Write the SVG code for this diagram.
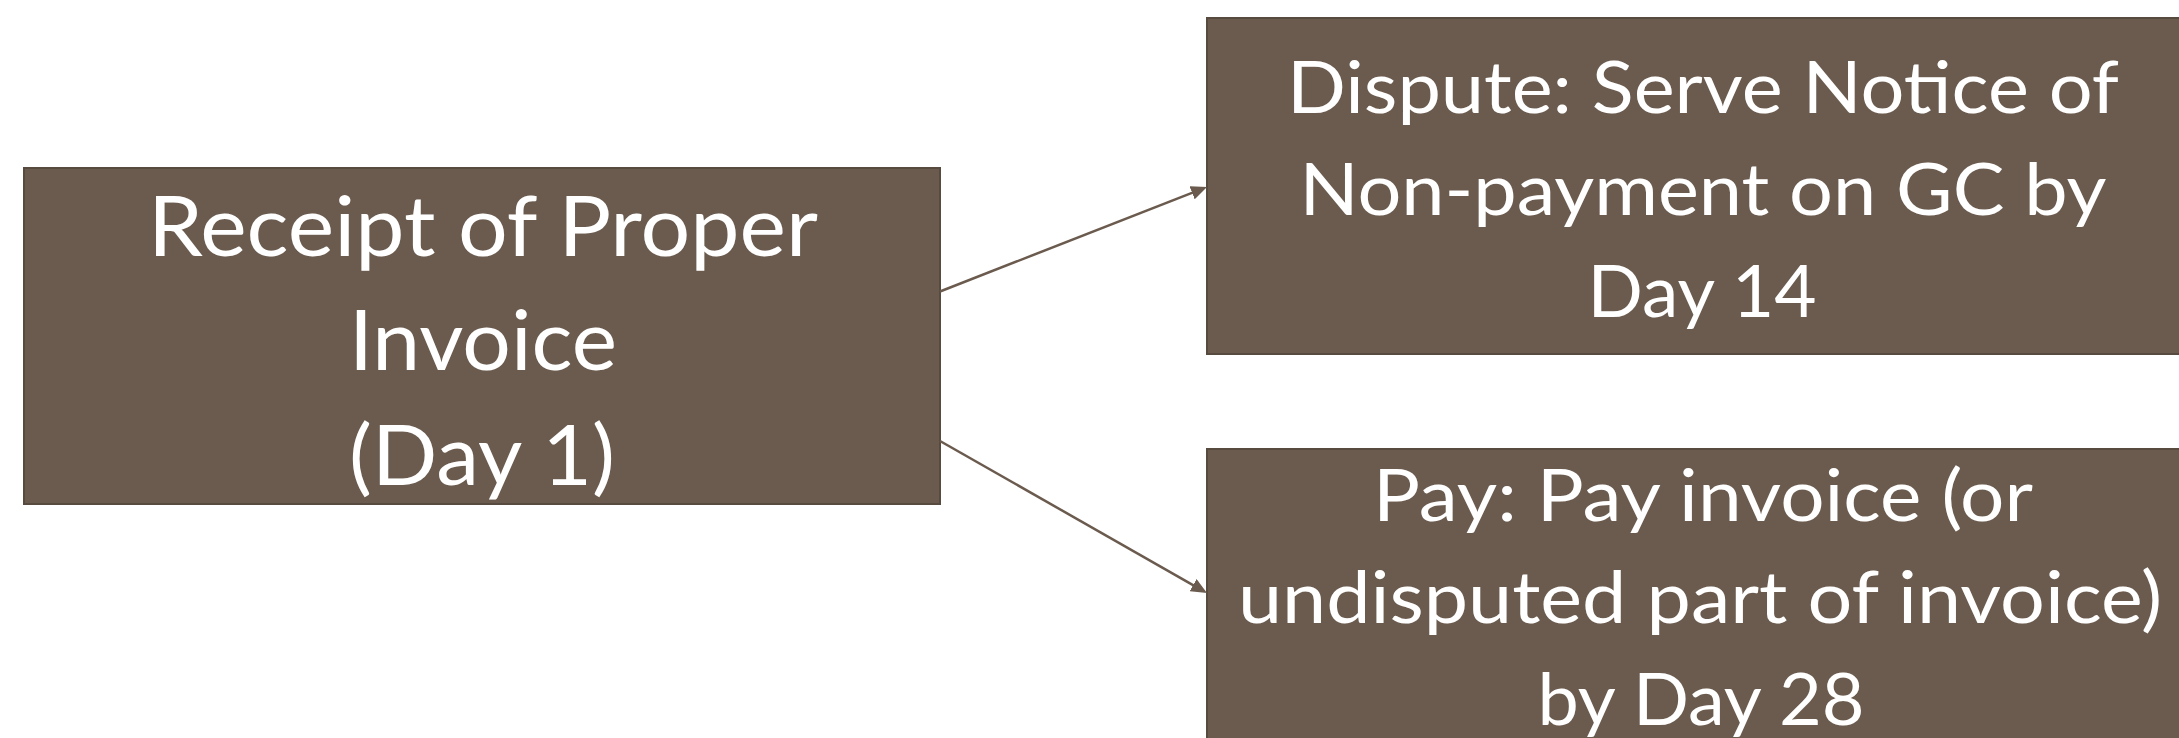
<svg xmlns="http://www.w3.org/2000/svg" width="2179" height="738" viewBox="0 0 2179 738">
  <style>
    .box { fill: #6b5b4e; stroke: #574a3e; stroke-width: 2; }
    .lbl { font-family: Lato, "Open Sans", "Liberation Sans", sans-serif; fill: #ffffff; text-anchor: middle; }
    .big { font-size: 84px; }
    .small { font-size: 72px; }
    .conn { fill: none; stroke: #6b5b4e; stroke-width: 2.5; }
  </style>
  <defs>
    <marker id="arrow" viewBox="0 0 16 14" refX="6" refY="7" markerWidth="16" markerHeight="14" markerUnits="userSpaceOnUse" orient="auto">
      <path d="M0,0 L16,7 L0,14 z" fill="#6b5b4e"/>
    </marker>
  </defs>
  <rect width="2179" height="738" fill="#ffffff"/>

  <g id="node-receipt">
    <rect class="box" x="24" y="168" width="916" height="336"/>
    <text class="lbl big" x="483" y="256" textLength="670" lengthAdjust="spacingAndGlyphs">Receipt of Proper</text>
    <text class="lbl big" x="483" y="370" textLength="268" lengthAdjust="spacingAndGlyphs">Invoice</text>
    <text class="lbl big" x="482" y="485" textLength="266" lengthAdjust="spacingAndGlyphs">(Day 1)</text>
  </g>

  <g id="node-dispute">
    <rect class="box" x="1207" y="18" width="992" height="336"/>
    <text class="lbl small" x="1703" y="113" textLength="832" lengthAdjust="spacingAndGlyphs">Dispute: Serve Notice of</text>
    <text class="lbl small" x="1703" y="215" textLength="807" lengthAdjust="spacingAndGlyphs">Non-payment on GC by</text>
    <text class="lbl small" x="1702" y="317" textLength="229" lengthAdjust="spacingAndGlyphs">Day 14</text>
  </g>

  <g id="node-pay">
    <rect class="box" x="1207" y="449" width="992" height="336"/>
    <text class="lbl small" x="1703" y="521" textLength="660" lengthAdjust="spacingAndGlyphs">Pay: Pay invoice (or</text>
    <text class="lbl small" x="1700" y="623" textLength="924" lengthAdjust="spacingAndGlyphs">undisputed part of invoice)</text>
    <text class="lbl small" x="1701" y="725" textLength="327" lengthAdjust="spacingAndGlyphs">by Day 28</text>
  </g>

  <g id="connectors">
    <line class="conn" x1="940" y1="291.5" x2="1197.7" y2="190.6" marker-end="url(#arrow)"/>
    <line class="conn" x1="940" y1="441" x2="1198.3" y2="588.05" marker-end="url(#arrow)"/>
  </g>
</svg>
